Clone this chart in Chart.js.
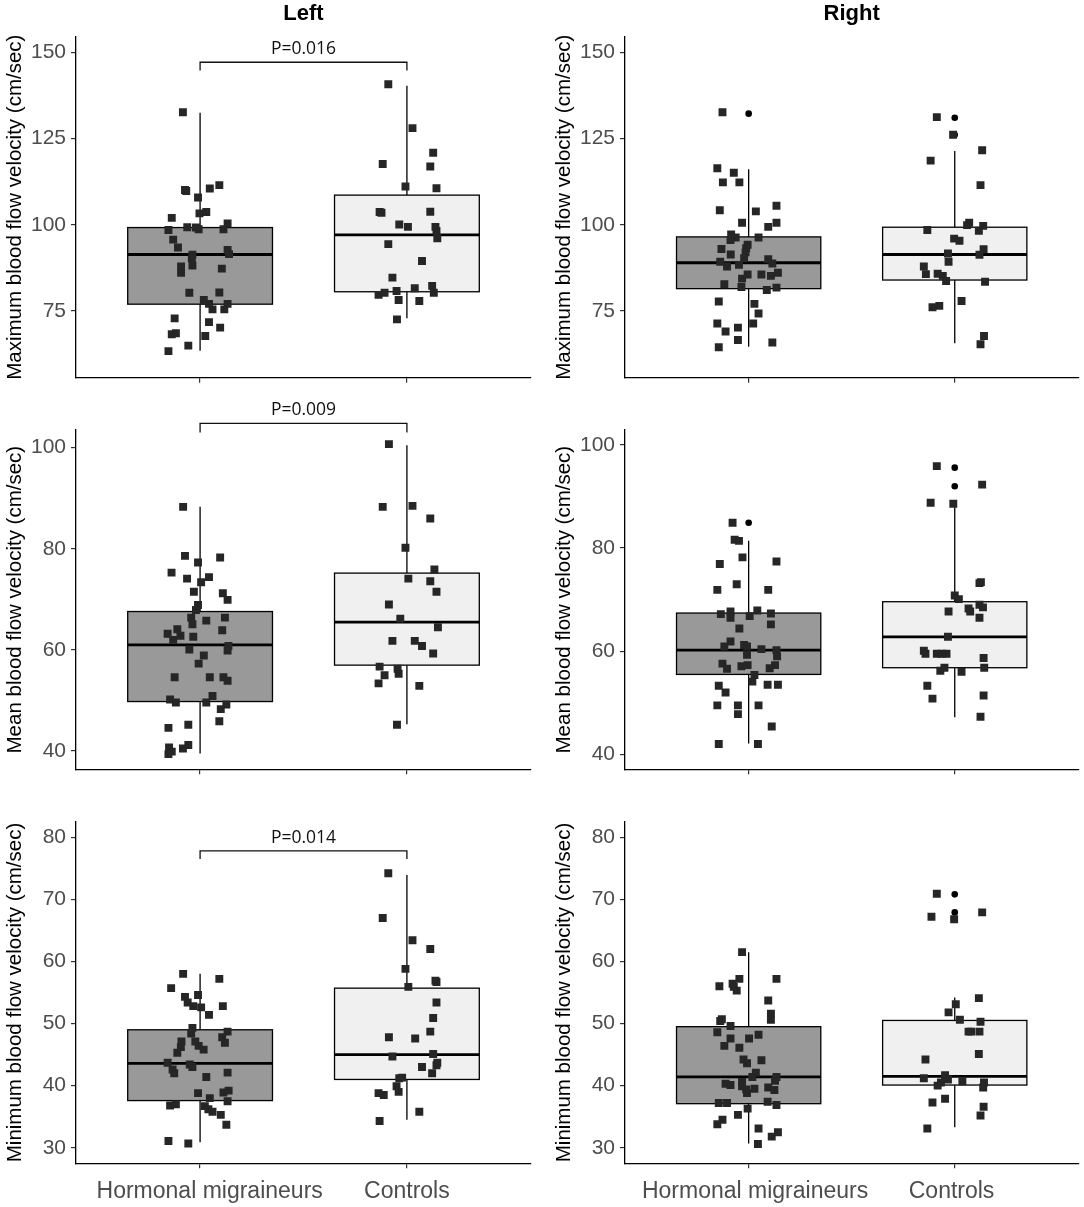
<!DOCTYPE html>
<html>
<head>
<meta charset="utf-8">
<script src="https://cdn.jsdelivr.net/npm/chart.js@4.4.1/dist/chart.umd.min.js"></script>
<style>
html,body{margin:0;padding:0;background:#fff;}
#wrap{position:relative;width:1084px;height:1207px;overflow:hidden;}
#wrap canvas{position:absolute;}
</style>
</head>
<body>
<div id="wrap"></div>
<script>
// ---------------- DATA ----------------
const categories = ['Hormonal migraineurs', 'Controls'];
const sideTitles = ['Left', 'Right'];
const yTitles = ['Maximum blood flow velocity (cm/sec)', 'Mean blood flow velocity (cm/sec)', 'Minimum blood flow velocity (cm/sec)'];
const maxTicks = [75, 100, 125, 150];
const meanTicks = [40, 60, 80, 100];
const minTicks = [30, 40, 50, 60, 70, 80];
const pValues = ['P=0.016', 'P=0.009', 'P=0.014'];

// Maximum, Left
const maxLeftHormonalY = [132.6,110.1,109.8,110.5,111.5,107.9,103.3,103.7,102.0,98.5,99.3,99.2,98.7,98.7,100.4,95.7,93.4,91.3,90.3,92.7,91.5,87.9,86.1,88.2,87.3,80.3,80.4,78.2,77.1,75.5,75.5,77.1,72.9,71.8,70.2,68.3,68.6,67.8,65.0,63.4];
const maxLeftHormonalJitter = [-0.083,-0.073,-0.067,0.047,0.093,-0.01,-0.003,0.03,-0.137,-0.153,-0.062,-0.02,-0.007,0.113,0.133,-0.13,-0.107,-0.037,-0.04,0.133,0.14,-0.092,-0.092,-0.037,0.105,-0.052,0.093,0.018,0.043,0.06,0.117,0.133,-0.123,0.043,0.097,-0.137,-0.117,0.025,-0.057,-0.153];
const maxLeftControlsY = [140.7,128.0,120.9,117.6,116.9,111.1,110.6,103.7,103.5,103.8,100.1,99.4,99.4,98.2,96.1,94.4,89.5,84.7,79.7,80.3,80.8,81.6,82.3,80.3,78.2,77.9,72.6];
const maxLeftControlsJitter = [-0.09,0.027,0.127,-0.117,0.113,-0.007,0.143,-0.132,-0.123,0.113,-0.037,0.005,0.138,0.143,0.147,-0.09,0.073,-0.07,-0.137,-0.108,-0.05,0.038,0.122,0.13,-0.04,0.06,-0.048];
const maxLeftHormonalBox = [63.5, 77.0, 91.4, 99.2, 132.5];   // low whisker, Q1, median, Q3, high whisker
const maxLeftControlsBox = [72.9, 80.6, 97.1, 108.6, 140.3];

// Maximum, Right
const maxRightHormonalY = [132.6,116.4,115.1,112.3,112.3,105.5,104.2,103.9,100.6,100.6,99.4,97.2,96.3,95.6,96.3,94.2,93.2,93.0,91.4,92.0,90.3,89.3,90.0,88.8,87.9,88.4,84.4,85.6,85.6,85.2,86.1,82.8,82.0,81.1,81.8,77.8,77.1,74.3,71.4,69.1,70.2,71.4,66.6,65.9,64.5];
const maxRightHormonalJitter = [-0.127,-0.152,-0.072,-0.125,-0.045,0.135,-0.14,0.035,-0.032,0.135,0.095,-0.085,-0.063,-0.088,0.048,-0.005,-0.012,-0.132,-0.087,-0.015,-0.022,-0.138,0.095,0.115,-0.105,-0.047,-0.032,-0.005,0.062,0.108,0.142,-0.118,-0.035,0.088,0.135,-0.145,0.028,0.048,-0.152,-0.112,-0.052,0.022,-0.052,0.115,-0.145];
const maxRightControlsY = [131.2,126.1,121.6,118.6,111.5,98.5,96.0,95.4,100.6,99.9,98.3,99.7,91.7,91.3,92.9,87.9,85.7,85.8,85.2,83.7,89.3,83.5,76.1,76.5,77.9,67.8,65.4];
const maxRightControlsJitter = [-0.087,-0.008,0.133,-0.117,0.125,-0.133,-0.003,0.023,0.07,0.06,0.117,0.138,-0.033,0.12,0.14,-0.15,-0.14,-0.083,-0.058,-0.042,-0.03,0.147,-0.108,-0.075,0.033,0.142,0.125];
const maxRightHormonalBox = [64.7, 81.5, 89.0, 96.5, 116.1];
const maxRightControlsBox = [65.7, 84.0, 91.4, 99.3, 121.4];
const maxRightHormonalOutliers = [132.2];
const maxRightControlsOutliers = [131.0, 126.1];

// Mean, Left
const meanLeftHormonalY = [88.3,78.6,78.3,77.3,75.3,74.1,74.4,73.4,71.5,71.2,69.9,68.9,67.9,66.4,65.1,65.8,66.4,63.2,64.1,62.8,62.0,62.6,63.9,60.1,60.8,59.9,58.9,57.3,54.6,54.6,54.6,53.9,50.2,49.6,50.9,49.6,49.2,48.3,45.9,44.6,45.2,40.7,39.9,39.4,40.5,41.2];
const meanLeftHormonalJitter = [-0.082,-0.073,0.097,-0.01,-0.138,-0.063,0.043,0.005,-0.03,0.11,0.133,-0.01,-0.02,-0.043,-0.037,0.03,0.12,-0.157,-0.11,-0.095,-0.13,-0.033,0.107,-0.052,0.137,0.133,0.018,-0.007,-0.123,0.047,0.113,0.133,-0.145,-0.117,0.06,0.03,0.127,0.1,0.093,-0.153,-0.057,-0.15,-0.137,-0.153,-0.083,-0.057];
const meanLeftControlsY = [100.7,88.3,88.5,86.0,80.2,75.9,74.1,73.6,71.5,69.0,66.2,64.5,61.8,61.8,60.8,59.3,56.7,56.3,55.0,55.3,53.4,52.9,45.2];
const meanLeftControlsJitter = [-0.087,-0.117,0.027,0.113,-0.007,0.133,0.007,0.113,0.143,-0.087,-0.032,0.15,-0.07,0.038,0.073,0.127,-0.132,-0.045,-0.108,-0.04,-0.137,0.06,-0.048];
const meanLeftHormonalBox = [39.5, 49.8, 61.0, 67.6, 88.3];
const meanLeftControlsBox = [45.3, 57.0, 65.5, 75.2, 100.5];

// Mean, Right
const meanRightHormonalY = [84.9,81.6,81.4,78.2,77.4,76.9,73.0,71.9,71.9,67.2,67.7,66.5,66.8,67.9,67.3,65.2,64.4,61.9,60.9,61.2,60.9,59.3,60.4,60.2,59.0,57.3,56.7,57.6,56.6,57.1,57.3,55.4,54.1,53.3,52.0,53.5,53.5,49.5,49.5,47.8,49.5,45.4,42.0,42.0];
const meanRightHormonalJitter = [-0.078,-0.068,-0.047,-0.03,0.135,-0.14,-0.058,-0.152,0.095,-0.135,-0.088,-0.088,0.005,0.042,0.108,0.108,-0.045,-0.088,-0.118,-0.022,-0.008,-0.008,0.062,0.135,0.138,0.128,0.102,-0.127,-0.105,-0.035,-0.005,0.028,0.018,-0.145,-0.112,0.092,0.142,-0.152,-0.052,-0.052,0.048,0.112,-0.145,0.045];
const meanRightControlsY = [95.9,92.3,88.8,88.6,73.2,73.4,70.8,70.1,67.7,68.3,67.7,69.0,68.5,66.5,62.8,60.1,59.5,59.5,59.5,59.5,58.7,56.2,56.8,56.0,56.8,53.3,50.8,51.4,47.3];
const meanRightControlsJitter = [-0.087,0.133,-0.117,-0.007,0.12,0.127,0,0.02,-0.03,0.067,0.075,0.12,0.137,0.12,-0.033,-0.15,-0.142,-0.087,-0.063,-0.04,0.14,-0.07,-0.05,0.033,0.143,-0.133,-0.108,0.14,0.125];
const meanRightHormonalBox = [42.1, 55.5, 60.2, 67.4, 81.4];
const meanRightControlsBox = [47.2, 56.8, 62.8, 69.6, 88.6];
const meanRightHormonalOutliers = [84.9];
const meanRightControlsOutliers = [95.6, 92.0];

// Minimum, Left
const minLeftHormonalY = [58.0,57.2,55.7,54.3,53.4,54.6,52.8,52.6,52.8,51.4,49.3,48.4,48.7,47.8,46.9,47.1,46.2,45.3,47.1,46.4,45.8,43.7,43.4,43.0,42.6,42.0,41.4,42.1,38.8,38.9,39.2,37.5,38.0,36.8,37.0,36.7,36.2,35.8,35.3,33.7,31.1,30.7];
const minLeftHormonalJitter = [-0.082,0.093,-0.14,-0.073,-0.06,-0.01,-0.033,0.005,0.11,0.043,-0.037,-0.043,0.133,0.107,0.12,-0.09,-0.093,-0.11,-0.023,-0.007,0.017,-0.157,-0.05,-0.037,-0.133,-0.125,0.03,0.133,-0.01,0.113,0.138,0.133,0.047,-0.145,-0.117,0.023,0.04,0.06,0.1,0.127,-0.153,-0.057];
const minLeftControlsY = [74.2,67.0,63.4,62.0,58.8,55.9,56.9,56.7,53.4,50.9,48.7,47.8,47.6,44.7,45.1,43.7,43.3,43.0,42.0,41.2,41.3,39.9,39.0,38.8,38.5,35.8,34.3];
const minLeftControlsJitter = [-0.09,-0.117,0.027,0.113,-0.007,0.007,0.138,0.143,0.143,0.127,0.113,-0.087,0.04,-0.07,0.127,0.147,0.143,0.073,0.122,-0.037,-0.023,-0.05,-0.04,-0.137,-0.112,0.06,-0.132];
const minLeftHormonalBox = [30.9, 37.6, 43.6, 49.0, 58.0];
const minLeftControlsBox = [34.5, 41.0, 45.0, 55.7, 73.9];

// Minimum, Right
const minRightHormonalY = [61.5,57.2,57.2,56.0,56.4,55.9,55.3,53.7,51.6,50.6,50.4,50.7,49.6,48.6,48.2,47.6,47.6,46.4,46.1,44.2,43.6,44.1,42.1,41.4,41.4,40.8,40.3,40.1,40.6,39.9,39.4,38.8,39.5,39.7,39.3,37.2,37.2,37.4,36.9,36.3,35.3,34.5,33.8,33.1,32.5,31.8,30.6];
const minRightHormonalJitter = [-0.032,-0.045,0.135,-0.142,-0.078,-0.072,-0.058,0.095,0.108,0.108,-0.138,-0.13,-0.088,-0.152,0.048,0.002,-0.088,-0.118,-0.045,-0.025,-0.008,0.062,0.035,0.018,0.135,0.128,-0.112,-0.088,-0.032,-0.032,-0.012,-0.008,0.028,0.095,0.125,-0.145,-0.105,0.092,0.135,-0.005,-0.052,-0.127,-0.152,0.048,0.142,0.112,0.045];
const minRightControlsY = [70.9,66.8,67.2,67.9,54.1,53.1,51.8,50.6,50.3,48.7,48.7,48.7,44.2,45.1,41.2,41.7,41.0,40.7,40.0,40.5,40.5,39.7,37.9,37.3,36.6,35.2,33.1];
const minRightControlsJitter = [-0.087,-0.003,-0.113,0.133,0.117,0.005,-0.03,0.025,0.125,0.067,0.08,0.12,-0.142,0.117,-0.15,-0.047,-0.033,0.037,-0.083,-0.067,0.142,0.138,-0.047,-0.108,0.14,0.125,-0.133];
const minRightHormonalBox = [30.7, 37.1, 41.4, 49.5, 61.5];
const minRightControlsBox = [33.3, 40.1, 41.5, 50.5, 54.2];
const minRightControlsOutliers = [70.8, 67.9];

// ---------------- STYLE / LAYOUT ----------------
const FAM = '"Liberation Sans", Arial, Helvetica, sans-serif';
const FILLS = ['#999999', '#F0F0F0'];
const NB = '\u00A0';
const rows = [
  {top: 0,   height: 390, padTop: 36.7, xH: 8,    padBottom: 4.3,  ymin: 55.7, ymax: 154.5, ticks: maxTicks,  bracket: [144.7, 147.1], showX: false},
  {top: 390, height: 400, padTop: 40,   xH: 8,    padBottom: 12.7, ymin: 36.4, ymax: 103.5, ticks: meanTicks, bracket: [103.0, 104.8], showX: false},
  {top: 790, height: 417, padTop: 31.7, xH: 43.7, padBottom: 0,    ymin: 27.5, ymax: 82.5,  ticks: minTicks,  bracket: [76.5, 77.8],   showX: true}
];
const cols = [
  {left: 0,   width: 545, padRight: 14, pre: [3, 0], post: [0, 0]},
  {left: 549, width: 535, padRight: 4,  pre: [2, 0], post: [0, 1]}
];

function pts(ys, js, center) {
  const n = Math.min(ys.length, js.length);
  const out = [];
  for (let i = 0; i < n; i++) out.push({x: center + js[i], y: ys[i]});
  return out;
}
function outl(ys, center) { return (ys || []).map(v => ({x: center, y: v})); }

const panelData = [
  [
    {h: [maxLeftHormonalY, maxLeftHormonalJitter], c: [maxLeftControlsY, maxLeftControlsJitter], hb: maxLeftHormonalBox, cb: maxLeftControlsBox, ho: [], co: [], p: pValues[0]},
    {h: [maxRightHormonalY, maxRightHormonalJitter], c: [maxRightControlsY, maxRightControlsJitter], hb: maxRightHormonalBox, cb: maxRightControlsBox, ho: maxRightHormonalOutliers, co: maxRightControlsOutliers, p: null}
  ],
  [
    {h: [meanLeftHormonalY, meanLeftHormonalJitter], c: [meanLeftControlsY, meanLeftControlsJitter], hb: meanLeftHormonalBox, cb: meanLeftControlsBox, ho: [], co: [], p: pValues[1]},
    {h: [meanRightHormonalY, meanRightHormonalJitter], c: [meanRightControlsY, meanRightControlsJitter], hb: meanRightHormonalBox, cb: meanRightControlsBox, ho: meanRightHormonalOutliers, co: meanRightControlsOutliers, p: null, ymin: 37.1, ymax: 102.9}
  ],
  [
    {h: [minLeftHormonalY, minLeftHormonalJitter], c: [minLeftControlsY, minLeftControlsJitter], hb: minLeftHormonalBox, cb: minLeftControlsBox, ho: [], co: [], p: pValues[2]},
    {h: [minRightHormonalY, minRightHormonalJitter], c: [minRightControlsY, minRightControlsJitter], hb: minRightHormonalBox, cb: minRightControlsBox, ho: [], co: minRightControlsOutliers, p: null}
  ]
];

const decor = {
  id: 'decor',
  beforeDatasetsDraw(chart, args, o) {
    const {ctx} = chart; const x = chart.scales.x, y = chart.scales.y;
    ctx.save();
    o.boxes.forEach(b => {
      const [lo, q1, med, q3, hi] = b.stats;
      const cx = x.getPixelForValue(b.pos);
      const x0 = x.getPixelForValue(b.pos - o.halfWidth), x1 = x.getPixelForValue(b.pos + o.halfWidth);
      const yq1 = y.getPixelForValue(q1), yq3 = y.getPixelForValue(q3), ym = y.getPixelForValue(med);
      ctx.strokeStyle = '#000'; ctx.lineWidth = 1.3;
      ctx.beginPath();
      ctx.moveTo(cx, y.getPixelForValue(lo)); ctx.lineTo(cx, yq1);
      ctx.moveTo(cx, yq3); ctx.lineTo(cx, y.getPixelForValue(hi));
      ctx.stroke();
      ctx.fillStyle = b.fill;
      ctx.fillRect(x0, yq3, x1 - x0, yq1 - yq3);
      ctx.strokeRect(x0, yq3, x1 - x0, yq1 - yq3);
      ctx.lineWidth = 2.8;
      ctx.beginPath(); ctx.moveTo(x0, ym); ctx.lineTo(x1, ym); ctx.stroke();
    });
    ctx.restore();
  },
  afterDraw(chart, args, o) {
    const {ctx, chartArea} = chart; const x = chart.scales.x, y = chart.scales.y;
    ctx.save();
    if (o.title) {
      ctx.fillStyle = '#000';
      ctx.font = 'bold 22px ' + FAM;
      ctx.textAlign = 'center'; ctx.textBaseline = 'middle';
      ctx.fillText(o.title, (chartArea.left + chartArea.right) / 2, 14);
    }
    if (o.p) {
      const xa = x.getPixelForValue(1), xb = x.getPixelForValue(2);
      const yl = y.getPixelForValue(o.bracket[0]), yt = y.getPixelForValue(o.bracket[1]);
      ctx.strokeStyle = '#111'; ctx.lineWidth = 1.3;
      ctx.beginPath();
      ctx.moveTo(xa, yl); ctx.lineTo(xa, yt); ctx.lineTo(xb, yt); ctx.lineTo(xb, yl);
      ctx.stroke();
      ctx.fillStyle = '#111';
      ctx.font = '17.5px "Open Sans", "Noto Sans", sans-serif';
      ctx.textAlign = 'center'; ctx.textBaseline = 'middle';
      ctx.fillText(o.p, (xa + xb) / 2, yt - 13);
    }
    ctx.restore();
  }
};

const wrap = document.getElementById('wrap');
rows.forEach((row, ri) => {
  cols.forEach((col, ci) => {
    const pd = panelData[ri][ci];
    const cv = document.createElement('canvas');
    cv.width = col.width; cv.height = row.height;
    cv.style.left = col.left + 'px'; cv.style.top = row.top + 'px';
    cv.style.width = col.width + 'px'; cv.style.height = row.height + 'px';
    wrap.appendChild(cv);
    const ymin = pd.ymin !== undefined ? pd.ymin : row.ymin;
    const ymax = pd.ymax !== undefined ? pd.ymax : row.ymax;
    new Chart(cv, {
      type: 'scatter',
      data: {
        datasets: [
          {data: pts(pd.h[0], pd.h[1], 1), pointStyle: 'rect', pointRadius: 5.6, backgroundColor: '#262626', borderWidth: 0},
          {data: pts(pd.c[0], pd.c[1], 2), pointStyle: 'rect', pointRadius: 5.6, backgroundColor: '#262626', borderWidth: 0},
          {data: outl(pd.ho, 1).concat(outl(pd.co, 2)), pointStyle: 'circle', pointRadius: 3.3, backgroundColor: '#000', borderWidth: 0}
        ]
      },
      options: {
        responsive: false, animation: false, events: [],
        layout: {padding: {top: row.padTop, bottom: row.padBottom, left: 0, right: col.padRight}},
        plugins: {
          legend: {display: false}, tooltip: {enabled: false},
          decor: {
            title: ri === 0 ? sideTitles[ci] : null,
            p: pd.p, bracket: row.bracket, halfWidth: 0.35,
            boxes: [{pos: 1, stats: pd.hb, fill: FILLS[0]}, {pos: 2, stats: pd.cb, fill: FILLS[1]}]
          }
        },
        scales: {
          x: {
            type: 'linear', min: 0.4, max: 2.6,
            afterBuildTicks: s => { s.ticks = categories.map((c, i) => ({value: i + 1})); },
            ticks: {
              autoSkip: false, maxRotation: 0, minRotation: 0, padding: 10,
              color: '#4D4D4D', font: {family: FAM, size: 23},
              callback: (v, i) => row.showX ? NB.repeat(col.pre[i]) + categories[i] + NB.repeat(col.post[i]) : ''
            },
            grid: {drawOnChartArea: false, drawTicks: true, tickLength: 5, color: '#333', lineWidth: 1.2},
            border: {display: true, color: '#000', width: 1.3},
            afterFit: s => { s.height = row.xH; s.paddingLeft = 0; s.paddingRight = 0; }
          },
          y: {
            type: 'linear', min: ymin, max: ymax,
            afterBuildTicks: s => { s.ticks = row.ticks.map(v => ({value: v})); },
            ticks: {autoSkip: false, padding: 5, color: '#4D4D4D', font: {family: FAM, size: 21}},
            grid: {drawOnChartArea: false, drawTicks: true, tickLength: 5, color: '#333', lineWidth: 1.2},
            border: {display: true, color: '#000', width: 1.3},
            title: {display: true, text: yTitles[ri], color: '#000', font: {family: FAM, size: 20.5}, padding: {top: 3, bottom: 0}},
            afterFit: s => { s.width = 76; s.paddingTop = 0; s.paddingBottom = 0; }
          }
        }
      },
      plugins: [decor]
    });
  });
});
</script>
</body>
</html>
